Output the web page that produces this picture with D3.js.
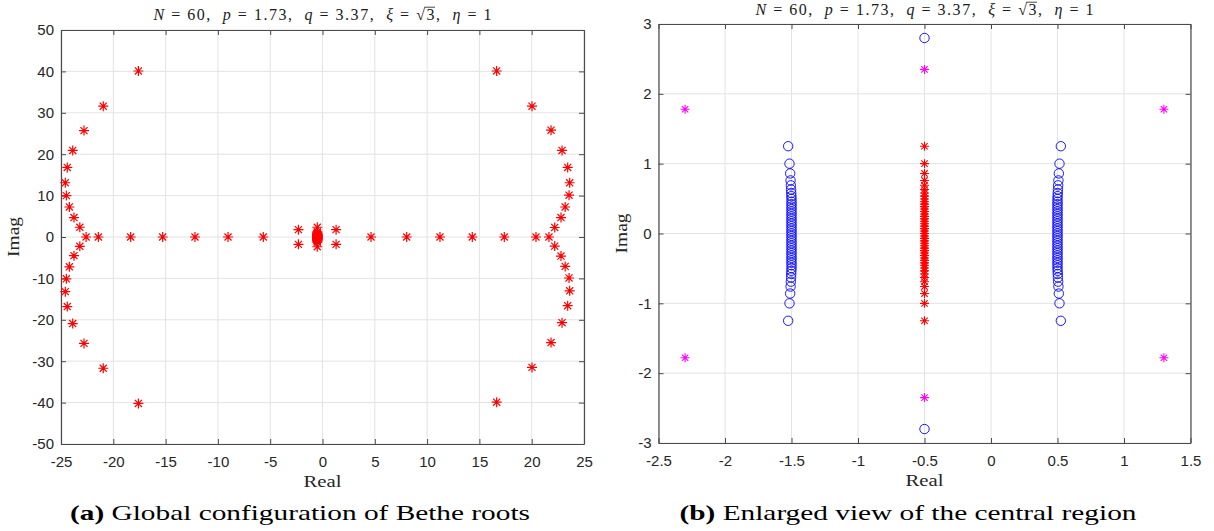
<!DOCTYPE html>
<html><head><meta charset="utf-8">
<script src="https://cdn.jsdelivr.net/npm/d3@7"></script>
<style>body{margin:0;background:#fff}svg text{white-space:pre}</style>
</head><body>
<svg id="c" width="1214" height="531"></svg>
<script>
// ---------------- DATA ----------------
// (a) global view: Bethe roots (red asterisks)
const ringLeftRe  = [-17.6, -20.96, -22.8, -23.88, -24.4, -24.59, -24.49, -24.2, -23.76, -23.2,
                     -23.2, -23.76, -24.2, -24.49, -24.59, -24.4, -23.88, -22.8, -20.96, -17.6];
const ringLeftIm  = [40.1, 31.6, 25.7, 20.9, 16.8, 13.1, 10.0, 7.25, 4.7, 2.35,
                     -2.25, -4.5, -7.2, -10.1, -13.2, -16.8, -20.9, -25.7, -31.7, -40.2];
const ringRightRe = [16.65, 20.03, 21.85, 22.9, 23.44, 23.63, 23.57, 23.2, 22.8, 22.2,
                     22.2, 22.8, 23.2, 23.57, 23.63, 23.44, 22.9, 21.85, 20.03, 16.65];
const ringRightIm = [40.1, 31.6, 25.8, 20.9, 16.8, 13.1, 10.1, 7.25, 4.7, 2.3,
                     -2.2, -4.6, -7.1, -9.9, -13.0, -16.6, -20.7, -25.5, -31.5, -39.9];
const realAxisRe  = [-22.6, -21.43, -18.34, -15.28, -12.19, -9.03, -5.66,
                     4.64, 8.05, 11.23, 14.32, 17.38, 20.41, 21.65];
// complex pairs (magenta in (b))
const pairRe = [-2.3, -2.3, 1.3, 1.3, -0.5, -0.5];
const pairIm = [1.78, -1.78, 1.78, -1.78, 2.35, -2.35];
// central red string at Re = -0.5
const centerRe = -0.5;
const centerIm = [1.25, 1.00, 0.86, 0.76, 0.69, 0.63, 0.58, 0.535, 0.495, 0.455, 0.42, 0.385,
                  0.35, 0.315, 0.28, 0.245, 0.21, 0.175, 0.14, 0.105, 0.07, 0.035, 0,
                  -0.035, -0.07, -0.105, -0.14, -0.175, -0.21, -0.245, -0.28, -0.315, -0.35,
                  -0.385, -0.42, -0.455, -0.495, -0.535, -0.58, -0.63, -0.69, -0.76, -0.86, -1.00, -1.25];
// blue circles (b)
const blueIm = [1.25, 1.00, 0.86, 0.76, 0.69, 0.63, 0.58, 0.535, 0.495, 0.455, 0.42, 0.385,
                0.35, 0.315, 0.28, 0.245, 0.21, 0.175, 0.14, 0.105, 0.07, 0.035, 0,
                -0.035, -0.07, -0.105, -0.14, -0.175, -0.21, -0.245, -0.28, -0.315, -0.35,
                -0.385, -0.42, -0.455, -0.495, -0.535, -0.58, -0.63, -0.69, -0.76, -0.86, -1.00, -1.25];
const blueLeftRe = [-1.525, -1.515, -1.51, -1.507, -1.505, -1.503, -1.502, -1.501, -1.5, -1.5, -1.5, -1.5,
                    -1.5, -1.5, -1.5, -1.5, -1.5, -1.5, -1.5, -1.5, -1.5, -1.5, -1.5,
                    -1.5, -1.5, -1.5, -1.5, -1.5, -1.5, -1.5, -1.5, -1.5, -1.5,
                    -1.5, -1.5, -1.5, -1.5, -1.501, -1.502, -1.503, -1.505, -1.507, -1.51, -1.515, -1.525];
const blueRightRe = [0.525, 0.515, 0.51, 0.507, 0.505, 0.503, 0.502, 0.501, 0.5, 0.5, 0.5, 0.5,
                     0.5, 0.5, 0.5, 0.5, 0.5, 0.5, 0.5, 0.5, 0.5, 0.5, 0.5,
                     0.5, 0.5, 0.5, 0.5, 0.5, 0.5, 0.5, 0.5, 0.5, 0.5,
                     0.5, 0.5, 0.5, 0.5, 0.501, 0.502, 0.503, 0.505, 0.507, 0.51, 0.515, 0.525];
const outerBlueRe = [-0.5, -0.5];
const outerBlueIm = [2.8, -2.8];

// ticks
const leftXTicks  = [-25, -20, -15, -10, -5, 0, 5, 10, 15, 20, 25];
const leftYTicks  = [-50, -40, -30, -20, -10, 0, 10, 20, 30, 40, 50];
const rightXTicks = [-2.5, -2, -1.5, -1, -0.5, 0, 0.5, 1, 1.5];
const rightYTicks = [-3, -2, -1, 0, 1, 2, 3];

const captionA = ["(a)", " Global configuration of Bethe roots"];
const captionB = ["(b)", " Enlarged view of the central region"];

// ---------------- DRAWING ----------------
const svg = d3.select("#c");
const zip = (xs, ys) => xs.map((x, i) => [x, ys[i]]);
const star = r => { const a = r * 0.7071;
  return `M${-r},0L${r},0M0,${-r}L0,${r}M${-a},${-a}L${a},${a}M${-a},${a}L${a},${-a}`; };

const SANS = "'Liberation Sans', Arial, Helvetica, sans-serif";
const SERIF = "'Liberation Serif', 'Times New Roman', serif";
const AX = "#4a4a4a";

function panel(o) {
  const g = svg.append("g");
  const x = d3.scaleLinear().domain(o.xd).range(o.xr);
  const y = d3.scaleLinear().domain(o.yd).range(o.yr);
  // grid
  g.append("g").selectAll("line").data(o.xt).join("line")
    .attr("x1", d => x(d)).attr("x2", d => x(d)).attr("y1", o.yr[0]).attr("y2", o.yr[1])
    .attr("stroke", "#e3e3e3").attr("stroke-width", 1);
  g.append("g").selectAll("line").data(o.yt).join("line")
    .attr("y1", d => y(d)).attr("y2", d => y(d)).attr("x1", o.xr[0]).attr("x2", o.xr[1])
    .attr("stroke", "#e3e3e3").attr("stroke-width", 1);
  const fmt = d => String(d);
  const styleAxis = sel => {
    sel.selectAll("path.domain").attr("stroke", AX).attr("stroke-width", 1.2);
    sel.selectAll(".tick line").attr("stroke", AX).attr("stroke-width", 1);
    sel.selectAll("text").attr("font-family", SANS).attr("font-size", 15).attr("fill", "#262626");
  };
  g.append("g").attr("transform", `translate(0,${o.yr[0]})`)
    .call(d3.axisBottom(x).tickValues(o.xt).tickFormat(fmt).tickSizeInner(-5).tickSizeOuter(0).tickPadding(12))
    .call(styleAxis);
  g.append("g").attr("transform", `translate(0,${o.yr[1]})`)
    .call(d3.axisTop(x).tickValues(o.xt).tickFormat("").tickSizeInner(-5).tickSizeOuter(0))
    .call(styleAxis);
  g.append("g").attr("transform", `translate(${o.xr[0]},0)`)
    .call(d3.axisLeft(y).tickValues(o.yt).tickFormat(fmt).tickSizeInner(-5).tickSizeOuter(0).tickPadding(7))
    .call(styleAxis);
  g.append("g").attr("transform", `translate(${o.xr[1]},0)`)
    .call(d3.axisRight(y).tickValues(o.yt).tickFormat("").tickSizeInner(-5).tickSizeOuter(0))
    .call(styleAxis);
  g.selectAll("text").attr("font-family", SANS).attr("font-size", 15).attr("fill", "#262626");

  // series
  o.series.forEach(s => {
    const sg = g.append("g");
    if (s.type === "circle") {
      sg.selectAll("circle").data(s.pts).join("circle")
        .attr("cx", d => x(d[0])).attr("cy", d => y(d[1])).attr("r", s.r)
        .attr("fill", "none").attr("stroke", s.color).attr("stroke-width", 0.9);
    } else {
      sg.selectAll("path").data(s.pts).join("path")
        .attr("transform", d => `translate(${x(d[0])},${y(d[1])})`)
        .attr("d", star(s.r)).attr("fill", "none").attr("stroke", s.color).attr("stroke-width", s.sw);
    }
  });

  const cx = (o.xr[0] + o.xr[1]) / 2, cy = (o.yr[0] + o.yr[1]) / 2;
  // axis labels
  svg.append("text").attr("x", cx).attr("y", o.yr[0] + 43).attr("text-anchor", "middle")
    .attr("font-family", SERIF).attr("font-size", 16).attr("fill", "#262626")
    .attr("textLength", 38).attr("lengthAdjust", "spacingAndGlyphs").text("Real");
  svg.append("text").attr("transform", `translate(${o.ylx},${cy}) rotate(-90)`).attr("text-anchor", "middle")
    .attr("font-family", SERIF).attr("font-size", 16).attr("fill", "#262626")
    .attr("textLength", 40).attr("lengthAdjust", "spacingAndGlyphs").text("Imag");

  // title
  const fs = 16;
  const t = svg.append("text").attr("x", cx).attr("y", o.ty).attr("text-anchor", "middle")
    .attr("font-family", SERIF).attr("font-size", fs).attr("fill", "#1a1a1a")
    .attr("textLength", 338).attr("lengthAdjust", "spacing");
  const parts = [["N", 1], [" = 60,  ", 0], ["p", 1], [" = 1.73,  ", 0], ["q", 1], [" = 3.37,  ", 0],
                 ["ξ", 1], [" = √3,  ", 0], ["η", 1], [" = 1", 0]];
  parts.forEach(p => t.append("tspan").attr("font-style", p[1] ? "italic" : "normal").text(p[0]));
  const node = t.node(), str = node.textContent, i = str.indexOf("√");
  const e1 = node.getExtentOfChar(i), e2 = node.getExtentOfChar(i + 1);
  svg.append("line").attr("x1", e1.x + e1.width - 0.6).attr("x2", e2.x + e2.width + 0.6)
    .attr("y1", o.ty - fs * 0.80).attr("y2", o.ty - fs * 0.80)
    .attr("stroke", "#1a1a1a").attr("stroke-width", 0.8);

  // caption
  const c = svg.append("text").attr("x", o.capx).attr("y", 520).attr("text-anchor", "middle")
    .attr("font-family", SERIF).attr("font-size", 21).attr("fill", "#000")
    .attr("textLength", o.capw).attr("lengthAdjust", "spacingAndGlyphs");
  c.append("tspan").attr("font-weight", "bold").text(o.cap[0]);
  c.append("tspan").text(o.cap[1]);
}

const leftRed = [].concat(zip(ringLeftRe, ringLeftIm), zip(ringRightRe, ringRightIm),
  realAxisRe.map(v => [v, 0]), zip(pairRe, pairIm), centerIm.map(v => [centerRe, v]));

panel({
  xd: [-25, 25], xr: [61, 584], yd: [-50, 50], yr: [444, 30],
  xt: leftXTicks, yt: leftYTicks, ylx: 19, ty: 20, capx: 300, capw: 460, cap: captionA,
  series: [{ type: "star", color: "#ff0000", r: 5, sw: 1.2, pts: leftRed }]
});

panel({
  xd: [-2.5, 1.5], xr: [658.5, 1190.5], yd: [-3, 3], yr: [443, 24],
  xt: rightXTicks, yt: rightYTicks, ylx: 627, ty: 15, capx: 908, capw: 457, cap: captionB,
  series: [
    { type: "circle", color: "#0000ff", r: 4.7,
      pts: [].concat(zip(blueLeftRe, blueIm), zip(blueRightRe, blueIm), zip(outerBlueRe, outerBlueIm)) },
    { type: "star", color: "#ff0000", r: 4.5, sw: 1.1, pts: centerIm.map(v => [centerRe, v]) },
    { type: "star", color: "#ff00ff", r: 4.5, sw: 1.1, pts: zip(pairRe, pairIm) }
  ]
});
</script>
</body></html>
